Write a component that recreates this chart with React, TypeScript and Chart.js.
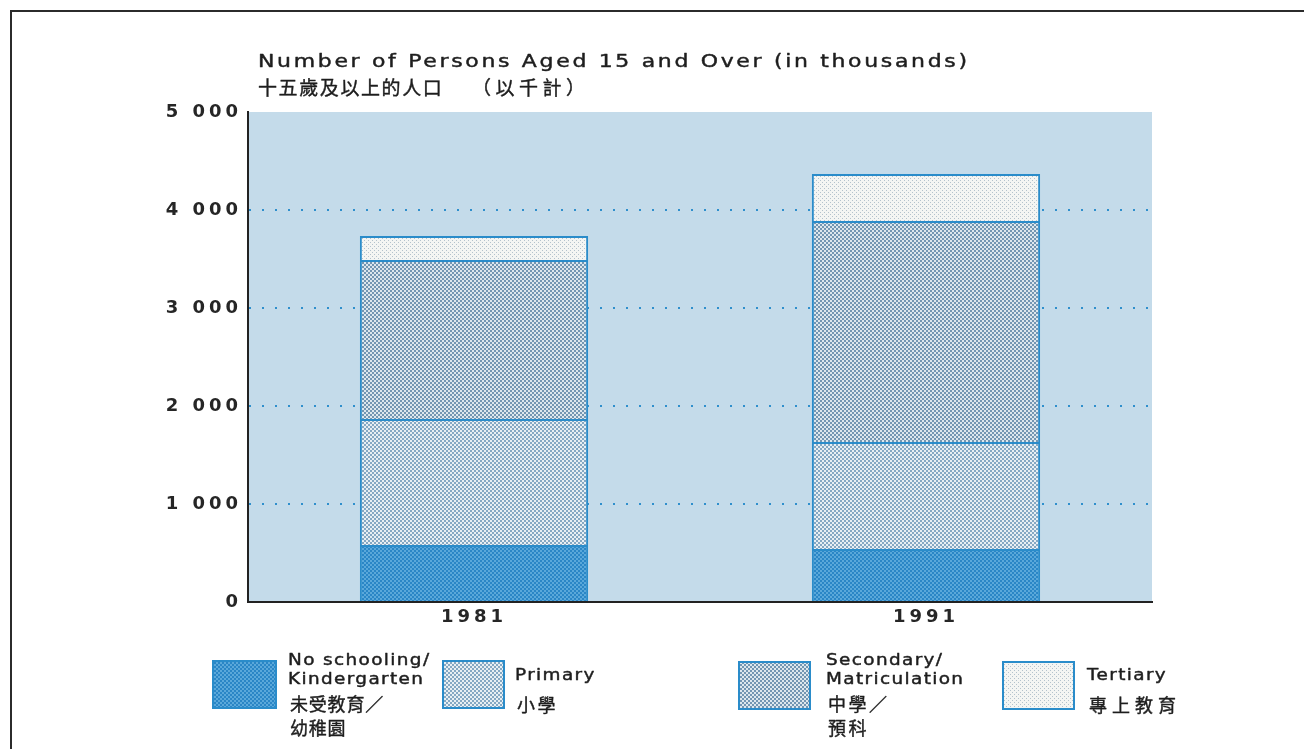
import React, { useEffect, useRef } from "react";
import { Chart, registerables } from "chart.js";

Chart.register(...registerables);

// ---------------- data ----------------
const categories = ["1981", "1991"];
const noSchooling = [582, 541];
const primary = [1285, 1092];
const secondary = [1623, 2255];
const tertiary = [245, 479];
const yTickValues = [0, 1000, 2000, 3000, 4000, 5000];

const seriesNamesEn = [
  ["No schooling/", "Kindergarten"],
  ["Primary"],
  ["Secondary/", "Matriculation"],
  ["Tertiary"],
];
const seriesNamesZh = [["未受教育／", "幼稚園"], ["小學"], ["中學／", "預科"], ["專上教育"]];

const titleEn = "Number of Persons Aged 15 and Over (in thousands)";
const titleZhMain = "十五歲及以上的人口";
const titleZhUnit = "（以千計）";

// ---------------- styles ----------------
const PLOT_BG = "#c4dbea";
const BAR_BORDER = "#2a8cca";
const GRID_BLUE = "#2f8fcc";
const TEXT = "#1e1e1e";
const EN_FONT = '"DejaVu Sans", "Liberation Sans", sans-serif';
const ZH_FONT = '"Noto Sans CJK TC", "Noto Sans CJK SC", sans-serif';

function fmt(v: number) {
  return String(v).replace(/\B(?=(\d{3})+(?!\d))/g, " ");
}

function makePattern(
  ctx: CanvasRenderingContext2D,
  bg: string,
  fg: string,
  step: number,
  dot: number
) {
  const c = document.createElement("canvas");
  c.width = step * 2;
  c.height = step * 2;
  const x = c.getContext("2d")!;
  x.fillStyle = bg;
  x.fillRect(0, 0, c.width, c.height);
  x.fillStyle = fg;
  x.fillRect(0, 0, dot, dot);
  x.fillRect(step, step, dot, dot);
  return ctx.createPattern(c, "repeat") as CanvasPattern;
}

function heavyText(
  ctx: CanvasRenderingContext2D,
  text: string,
  x: number,
  y: number,
  sx: number,
  spacing: number,
  stroke: number
) {
  ctx.save();
  ctx.translate(x, y);
  ctx.scale(sx, 1);
  (ctx as any).letterSpacing = `${spacing}px`;
  ctx.fillText(text, 0, 0);
  if (stroke > 0) {
    ctx.lineWidth = stroke;
    ctx.strokeStyle = ctx.fillStyle as string;
    ctx.lineJoin = "round";
    ctx.strokeText(text, 0, 0);
  }
  ctx.restore();
}

export default function App() {
  const ref = useRef<HTMLCanvasElement>(null);

  useEffect(() => {
    const canvas = ref.current!;
    const ctx0 = canvas.getContext("2d")!;
    const patterns = [
      makePattern(ctx0, "#5aa8da", "#2a86c6", 2, 2),
      makePattern(ctx0, "#e8eff3", "#85a8c3", 2, 2),
      makePattern(ctx0, "#dde7ed", "#7396b2", 2, 2),
      makePattern(ctx0, "#f4f5f3", "#b4c2cc", 2, 1),
    ];
    const seriesValues = [noSchooling, primary, secondary, tertiary];

    const decor = {
      id: "decor",
      beforeDraw(chart: any) {
        const { ctx, chartArea: a } = chart;
        ctx.save();
        ctx.fillStyle = "#ffffff";
        ctx.fillRect(0, 0, chart.width, chart.height);
        ctx.fillStyle = PLOT_BG;
        ctx.fillRect(a.left, a.top, a.right - a.left, a.bottom - a.top);
        // frame
        ctx.strokeStyle = "#2b2b2b";
        ctx.lineWidth = 2;
        ctx.beginPath();
        ctx.moveTo(11, chart.height + 2);
        ctx.lineTo(11, 11);
        ctx.lineTo(chart.width + 2, 11);
        ctx.stroke();
        // titles
        ctx.fillStyle = TEXT;
        ctx.textBaseline = "middle";
        ctx.textAlign = "left";
        ctx.font = `18px ${EN_FONT}`;
        heavyText(ctx, titleEn, 258, 62, 1.22, 2.2, 0.45);
        ctx.font = `19px ${ZH_FONT}`;
        heavyText(ctx, titleZhMain, 258, 88, 1, 1.6, 0.4);
        heavyText(ctx, titleZhUnit, 472, 88, 1, 4.5, 0.4);
        ctx.restore();
        (ctx as any).letterSpacing = "4px";
      },
      afterDraw(chart: any) {
        const { ctx } = chart;
        ctx.save();
        (ctx as any).letterSpacing = "0px";
        const boxes = [
          [212, 660, 65, 49],
          [442, 660, 63, 49],
          [738, 661, 73, 49],
          [1002, 661, 73, 49],
        ];
        const textX = [288, 515, 826, 1087];
        const zhSpacing = [0.8, 2.5, 2.5, 5];
        for (let i = 0; i < boxes.length; i++) {
          const [bx, by, bw, bh] = boxes[i];
          ctx.fillStyle = patterns[i];
          ctx.fillRect(bx, by, bw, bh);
          ctx.strokeStyle = BAR_BORDER;
          ctx.lineWidth = 2;
          ctx.strokeRect(bx + 1, by + 1, bw - 2, bh - 2);
          const en = seriesNamesEn[i];
          const zh = seriesNamesZh[i];
          ctx.fillStyle = TEXT;
          ctx.textBaseline = "middle";
          ctx.textAlign = "left";
          ctx.font = `16px ${EN_FONT}`;
          const enStart = en.length > 1 ? 661 : 676;
          en.forEach((t, k) =>
            heavyText(ctx, t, textX[i], enStart + k * 18.5, 1.15, 1.2, 0.45)
          );
          ctx.font = `18px ${ZH_FONT}`;
          const zhStart = en.length > 1 ? 704 : 705;
          zh.forEach((t, k) =>
            heavyText(ctx, t, textX[i] + 2, zhStart + k * 24, 1, zhSpacing[i], 0.4)
          );
        }
        ctx.restore();
        (ctx as any).letterSpacing = "0px";
      },
    };

    const chart = new Chart(canvas, {
      type: "bar",
      data: {
        labels: categories,
        datasets: seriesValues.map((vals, i) => ({
          label: seriesNamesEn[i].join(" "),
          data: vals,
          backgroundColor: patterns[i],
          borderColor: BAR_BORDER,
          borderWidth: 2,
          stack: "s",
          categoryPercentage: 1,
          barPercentage: 0.505,
        })),
      },
      options: {
        responsive: false,
        animation: false,
        devicePixelRatio: 1,
        layout: { padding: { top: 112, right: 152, bottom: 117, left: 0 } },
        plugins: {
          legend: { display: false },
          title: { display: false },
          tooltip: { enabled: false },
        },
        scales: {
          x: {
            stacked: true,
            grid: { display: false, drawTicks: false },
            border: { display: true, color: "#222222", width: 2 },
            ticks: {
              color: "#262626",
              font: { family: EN_FONT, size: 18, weight: "bold" },
              padding: 5,
            },
            afterFit: (s: any) => {
              s.height = 30;
            },
          },
          y: {
            stacked: true,
            min: 0,
            max: 5000,
            afterBuildTicks: (s: any) => {
              s.ticks = yTickValues.map((v) => ({ value: v }));
            },
            grid: {
              drawTicks: false,
              lineWidth: 2,
              color: (c: any) =>
                c.tick && (c.tick.value === 0 || c.tick.value === 5000)
                  ? "rgba(0,0,0,0)"
                  : GRID_BLUE,
            },
            border: { display: true, color: "#222222", width: 2, dash: [2, 11] },
            ticks: {
              color: "#262626",
              font: { family: EN_FONT, size: 18, weight: "bold" },
              padding: 6,
              callback: (v: any) => fmt(Number(v)),
            },
            afterFit: (s: any) => {
              s.width = 248;
            },
          },
        },
      },
      plugins: [decor],
    } as any);

    return () => chart.destroy();
  }, []);

  return (
    <div
      style={{
        position: "fixed",
        left: 0,
        top: 0,
        width: 1304,
        height: 749,
        background: "#ffffff",
        overflow: "hidden",
      }}
    >
      <canvas ref={ref} width={1304} height={749} style={{ display: "block" }} />
    </div>
  );
}
